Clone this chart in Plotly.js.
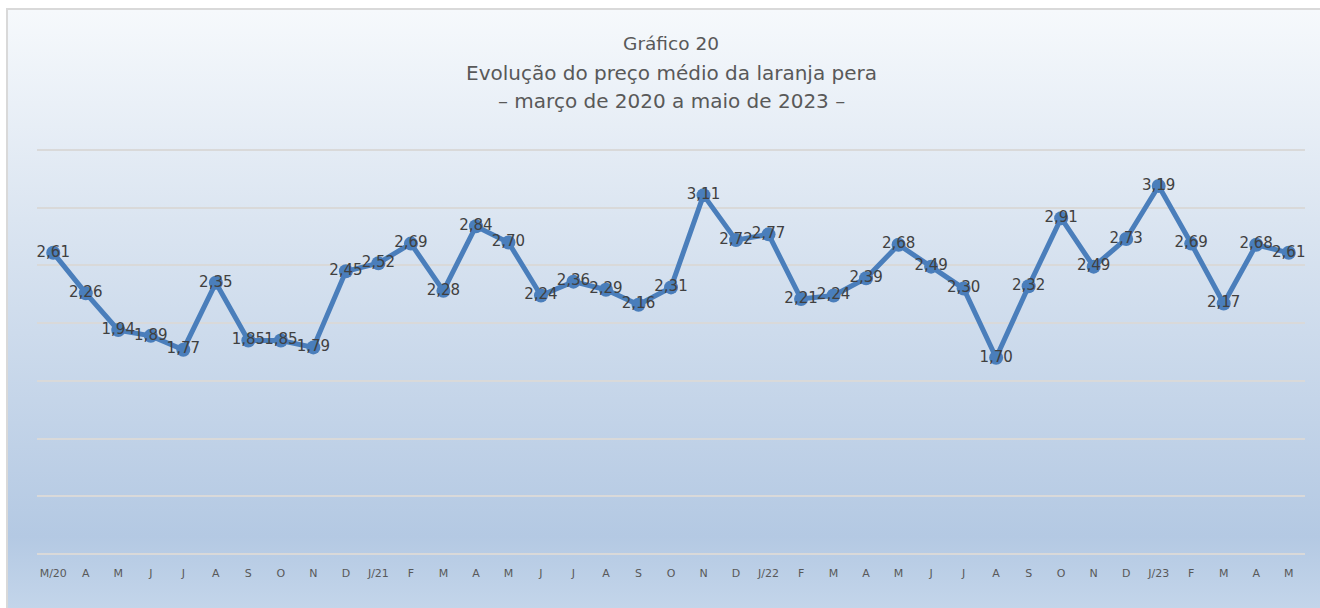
<!DOCTYPE html>
<html>
<head>
<meta charset="utf-8">
<script src="https://cdn.plot.ly/plotly-3.0.1.min.js"></script>
<style>
  html, body { margin: 0; padding: 0; background: #ffffff; }
  #wrap { position: relative; width: 1320px; height: 608px; overflow: hidden; }
  #bg { position: absolute; left: 6px; top: 8px; right: 0; bottom: 0;
        border-top: 2px solid #d9d9d9; border-left: 2px solid #d9d9d9;
        background: linear-gradient(to bottom, #f6f9fc 0%, #dbe5f1 35%, #b4c9e3 88%, #c3d5ea 100%); }
  #chart { position: absolute; left: 0; top: 0; width: 1320px; height: 608px; }
</style>
</head>
<body>
<div id="wrap">
  <div id="bg"></div>
  <div id="chart"></div>
</div>
<script>
const monthLabels = ["M/20","A","M","J","J","A","S","O","N","D",
  "J/21","F","M","A","M","J","J","A","S","O","N","D",
  "J/22","F","M","A","M","J","J","A","S","O","N","D",
  "J/23","F","M","A","M"];
const prices = [2.61,2.26,1.94,1.89,1.77,2.35,1.85,1.85,1.79,2.45,
  2.52,2.69,2.28,2.84,2.70,2.24,2.36,2.29,2.16,2.31,3.11,2.72,
  2.77,2.21,2.24,2.39,2.68,2.49,2.30,1.70,2.32,2.91,2.49,2.73,
  3.19,2.69,2.17,2.68,2.61];
const titleLines = ["Gráfico 20", "Evolução do preço médio da laranja pera", "– março de 2020 a maio de 2023 –"];

const idx = monthLabels.map((_, i) => i);
const labels = prices.map(v => v.toFixed(2).replace('.', ','));

const FONT = "DejaVu Sans, Verdana, sans-serif";

const trace = {
  x: idx,
  y: prices,
  type: 'scatter',
  mode: 'lines+markers+text',
  line: { color: '#4a7ebb', width: 5 },
  marker: { color: '#4a7ebb', size: 14 },
  text: labels,
  textposition: 'middle center',
  textfont: { family: FONT, size: 15, color: '#404040' },
  cliponaxis: false,
  hoverinfo: 'x+y'
};

// plot area: y=0 at 554px, y=3.5 at 150px; small padding so edge gridlines are drawn
const pad = 0.01;
const pxPerUnit = 404 / 3.5;
const padPx = pad * pxPerUnit;
const tM = 150 - padPx, bM = 54 - padPx;
const plotH = 608 - tM - bM;
const py = p => (608 - bM - p) / plotH;

const layout = {
  width: 1320, height: 608,
  paper_bgcolor: 'rgba(0,0,0,0)',
  plot_bgcolor: 'rgba(0,0,0,0)',
  margin: { l: 37, r: 15, t: tM, b: bM },
  showlegend: false,
  title: {
    text: titleLines[0],
    font: { family: FONT, size: 18.5, color: '#595959' },
    x: 0.5, xanchor: 'center', xref: 'paper',
    y: 1 - 44 / 608, yanchor: 'middle', yref: 'container'
  },
  xaxis: {
    range: [-0.5, 38.5],
    tickmode: 'array', tickvals: idx, ticktext: monthLabels,
    showgrid: false, zeroline: false, showline: false, ticks: '',
    tickfont: { family: FONT, size: 11, color: '#595959' },
    ticklabelstandoff: 10,
    fixedrange: true
  },
  yaxis: {
    range: [-pad, 3.5 + pad], dtick: 0.5, tick0: 0, tickmode: 'linear',
    showgrid: true, gridcolor: '#d9d9d9', gridwidth: 2,
    zeroline: false, showline: false, showticklabels: false, ticks: '',
    fixedrange: true
  },
  annotations: [
    { text: titleLines[1], xref: 'paper', yref: 'paper', x: 0.5, y: py(73), xanchor: 'center', yanchor: 'middle', showarrow: false,
      font: { family: FONT, size: 20, color: '#595959' } },
    { text: titleLines[2], xref: 'paper', yref: 'paper', x: 0.5, y: py(101), xanchor: 'center', yanchor: 'middle', showarrow: false,
      font: { family: FONT, size: 20, color: '#595959' } }
  ]
};

Plotly.newPlot('chart', [trace], layout, { displayModeBar: false });
</script>
</body>
</html>
